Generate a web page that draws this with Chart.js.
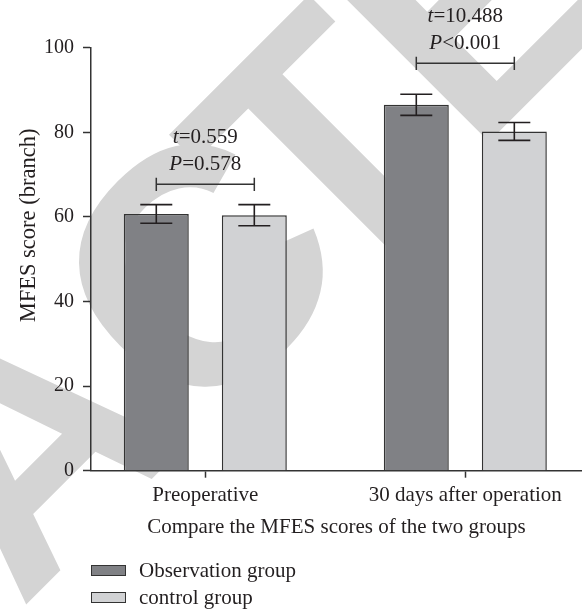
<!DOCTYPE html>
<html>
<head>
<meta charset="utf-8">
<script src="https://cdn.jsdelivr.net/npm/chart.js@4.4.1/dist/chart.umd.min.js"></script>
<style>
  html, body { margin: 0; background: #fff; }
  #wrap { position: relative; width: 582px; height: 609px; overflow: hidden; }
  #chart { position: absolute; left: 0; top: 0; }
  #legend { position: absolute; left: 91px; top: 557px; font: 21px "Liberation Serif", serif; color: #231f20; }
  .item { display: flex; align-items: center; height: 27.3px; white-space: nowrap; }
  .box { width: 32.5px; height: 9px; border: 1.3px solid #333; margin-right: 13.5px; }
</style>
</head>
<body>
<div id="wrap">
  <canvas id="chart" width="582" height="609"></canvas>
  <div id="legend"></div>
</div>
<script>
const categories = ["Preoperative", "30 days after operation"];
const observation = [60.7, 86.5];
const observationErr = [2.2, 2.5];
const control = [60.4, 80.2];
const controlErr = [2.5, 2.1];
const bracketAt = [67.7, 96.3];
const tValues = ["0.559", "10.488"];
const pValues = ["=0.578", "<0.001"];
const yTicks = [0, 20, 40, 60, 80, 100];

const ink = "#231f20";
const serif = '"Liberation Serif", serif';

// background "RETRACTED" stamp, letters placed along a 45 degree baseline
const stamp = [["R", -540, "center"], ["A", -296, "center"], ["C", -52, "center"], ["T", 123, "center"], ["E", 223, "left"], ["D", 455, "left"]];

const watermark = {
  id: "watermark",
  beforeDraw(c) {
    const ctx = c.ctx;
    ctx.save();
    ctx.font = 'bold 336px "Liberation Sans", sans-serif';
    ctx.fillStyle = "#d4d4d4";
    ctx.textBaseline = "alphabetic";
    ctx.rotate(-Math.PI / 4);
    stamp.forEach(([ch, u, align]) => {
      ctx.textAlign = align;
      ctx.fillText(ch, u, 446);
    });
    ctx.restore();
  }
};

const errorBars = {
  id: "errorBars",
  afterDatasetsDraw(c) {
    const ctx = c.ctx, y = c.scales.y;
    ctx.save();
    ctx.strokeStyle = ink;
    ctx.lineWidth = 1.6;
    c.data.datasets.forEach((ds, i) => {
      c.getDatasetMeta(i).data.forEach((bar, j) => {
        const v = ds.data[j].y, e = ds.errors[j];
        const hi = y.getPixelForValue(v + e), lo = y.getPixelForValue(v - e);
        ctx.beginPath();
        ctx.moveTo(bar.x, hi); ctx.lineTo(bar.x, lo);
        ctx.moveTo(bar.x - 16, hi); ctx.lineTo(bar.x + 16, hi);
        ctx.moveTo(bar.x - 16, lo); ctx.lineTo(bar.x + 16, lo);
        ctx.stroke();
      });
    });

    // significance brackets + t / P text
    const m0 = c.getDatasetMeta(0).data, m1 = c.getDatasetMeta(1).data;
    bracketAt.forEach((b, j) => {
      const by = y.getPixelForValue(b), x0 = m0[j].x, x1 = m1[j].x;
      ctx.lineWidth = 1.5;
      ctx.strokeStyle = "#333";
      ctx.beginPath();
      ctx.moveTo(x0, by); ctx.lineTo(x1, by);
      ctx.moveTo(x0, by - 6.7); ctx.lineTo(x0, by + 6.7);
      ctx.moveTo(x1, by - 6.7); ctx.lineTo(x1, by + 6.7);
      ctx.stroke();

      const cx = (x0 + x1) / 2;
      ctx.fillStyle = ink;
      ctx.textBaseline = "middle";
      ctx.textAlign = "left";
      [["t", "=" + tValues[j], by - 47], ["P", pValues[j], by - 20]].forEach(([a, rest, ty]) => {
        ctx.font = "italic 21px " + serif;
        const wa = ctx.measureText(a).width;
        ctx.font = "21px " + serif;
        const wr = ctx.measureText(rest).width;
        const sx = cx - (wa + wr) / 2;
        ctx.font = "italic 21px " + serif;
        ctx.fillText(a, sx, ty);
        ctx.font = "21px " + serif;
        ctx.fillText(rest, sx + wa, ty);
      });
    });
    ctx.restore();
  }
};

const chart = new Chart(document.getElementById("chart"), {
  type: "bar",
  data: {
    datasets: [
      {
        label: "Observation group",
        data: observation.map((v, i) => ({ x: i, y: v })),
        errors: observationErr,
        backgroundColor: "#808185",
        borderColor: "#333",
        borderWidth: 1.5
      },
      {
        label: "control group",
        data: control.map((v, i) => ({ x: i, y: v })),
        errors: controlErr,
        backgroundColor: "#d1d2d4",
        borderColor: "#333",
        borderWidth: 1.5
      }
    ]
  },
  options: {
    responsive: false,
    animation: false,
    events: [],
    layout: { padding: { top: 47.7, right: 0, left: 0, bottom: 0 } },
    categoryPercentage: 0.754,
    barPercentage: 0.663,
    plugins: { legend: { display: false }, tooltip: { enabled: false } },
    scales: {
      x: {
        type: "linear",
        offset: false,
        min: -0.4396,
        max: 1.4488,
        afterBuildTicks: s => { s.ticks = categories.map((_, i) => ({ value: i })); },
        afterFit: s => { s.height = 138.3; },
        ticks: {
          callback: v => categories[v],
          color: ink,
          font: { family: serif, size: 21 },
          padding: 5,
          maxRotation: 0,
          autoSkip: false
        },
        grid: { offset: false, drawOnChartArea: false, drawTicks: true, tickLength: 7, tickColor: "#333", tickWidth: 1.5 },
        border: { color: "#333", width: 1.5 },
        title: {
          display: true,
          text: "Compare the MFES scores of the two groups",
          color: ink,
          font: { family: serif, size: 21 },
          padding: { bottom: 68.6 }
        }
      },
      y: {
        min: yTicks[0],
        max: yTicks[yTicks.length - 1],
        afterFit: s => { s.width = 91; },
        ticks: { stepSize: 20, color: ink, font: { family: serif, size: 20 }, padding: 9 },
        grid: { drawOnChartArea: false, drawTicks: true, tickLength: 8, tickColor: "#333", tickWidth: 1.5 },
        border: { color: "#333", width: 1.5 },
        title: {
          display: true,
          text: "\u2002\u2002\u2002\u2002\u2002\u2002MFES score (branch)",
          color: ink,
          font: { family: serif, size: 22.5 },
          padding: { top: 15.5 }
        }
      }
    }
  },
  plugins: [watermark, errorBars]
});

const legend = document.getElementById("legend");
chart.data.datasets.forEach(ds => {
  const item = document.createElement("div");
  item.className = "item";
  const box = document.createElement("span");
  box.className = "box";
  box.style.background = ds.backgroundColor;
  item.appendChild(box);
  item.appendChild(document.createTextNode(ds.label));
  legend.appendChild(item);
});
</script>
</body>
</html>
